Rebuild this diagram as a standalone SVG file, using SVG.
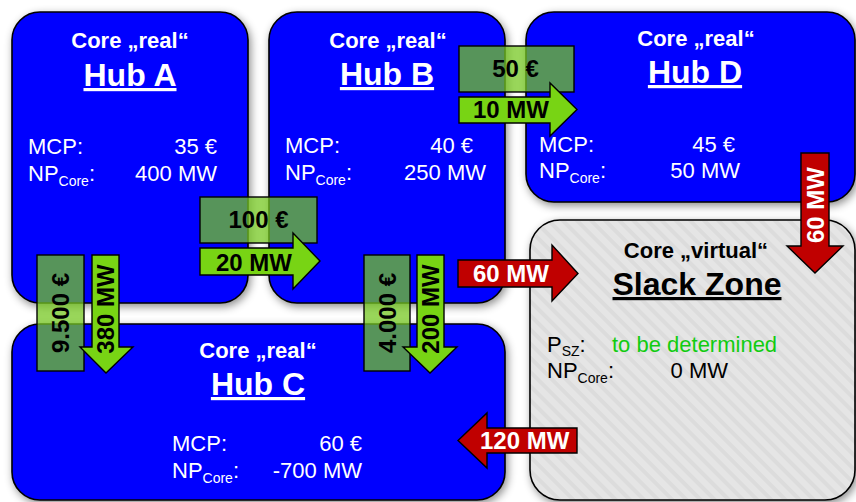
<svg xmlns="http://www.w3.org/2000/svg" width="856" height="502" viewBox="0 0 856 502">
<style>
text{font-family:"Liberation Sans",Arial,sans-serif}
.box{fill:#0000ff;stroke:#000;stroke-width:1.6;filter:url(#sh)}
.slack{fill:url(#stripes);stroke:#000;stroke-width:1.6;filter:url(#sh)}
.hdr{font-size:22px;font-weight:bold;fill:#fff;text-anchor:middle}
.hub{font-size:32px;font-weight:bold;fill:#fff;text-anchor:middle;text-decoration:underline}
.lbl{font-size:22px;fill:#fff}
.val{font-size:22px;fill:#fff;text-anchor:end}
.dk{fill:#000}
.sub{font-size:14px}
.price{fill:#76c820;fill-opacity:0.74;stroke:#000;stroke-width:1.4}
.ga{fill:#78d414;stroke:#000;stroke-width:1.4}
.ra{fill:#c00000;stroke:#000;stroke-width:1.4}
.al{font-size:24px;font-weight:bold;fill:#000}
.ar{font-size:24px;font-weight:bold;fill:#fff}
</style>
<defs>
<filter id="sh" x="-10%" y="-10%" width="120%" height="120%">
<feDropShadow dx="2" dy="3" stdDeviation="4" flood-color="#000" flood-opacity="0.45"/>
</filter>
<pattern id="stripes" patternUnits="userSpaceOnUse" width="10" height="10" patternTransform="rotate(-45)">
<rect width="10" height="10" fill="#e5e5e5"/>
<rect width="4" height="10" fill="#dcdcdc"/>
</pattern>
</defs>
<rect width="856" height="502" fill="#fff"/>

<g id="hubA">
<rect class="box" x="12" y="12" width="236" height="291" rx="28"/>
<text class="hdr" x="130" y="48">Core „real“</text>
<text class="hub" x="130" y="86">Hub A</text>
<text class="lbl" x="28" y="154">MCP:</text>
<text class="val" x="217" y="154">35 €</text>
<text class="lbl" x="28" y="181">NP<tspan class="sub" dy="5">Core</tspan><tspan dy="-5">:</tspan></text>
<text class="val" x="217" y="181">400 MW</text>
</g>

<g id="hubB">
<rect class="box" x="269" y="12" width="236" height="291" rx="28"/>
<text class="hdr" x="388" y="48">Core „real“</text>
<text class="hub" x="387" y="85">Hub B</text>
<text class="lbl" x="285" y="153">MCP:</text>
<text class="val" x="473" y="153">40 €</text>
<text class="lbl" x="285" y="180">NP<tspan class="sub" dy="5">Core</tspan><tspan dy="-5">:</tspan></text>
<text class="val" x="486" y="180">250 MW</text>
</g>

<g id="hubD">
<rect class="box" x="526" y="12" width="329" height="190" rx="28"/>
<text class="hdr" x="696" y="46">Core „real“</text>
<text class="hub" x="695" y="83">Hub D</text>
<text class="lbl" x="539" y="152">MCP:</text>
<text class="val" x="735" y="152">45 €</text>
<text class="lbl" x="539" y="178">NP<tspan class="sub" dy="5">Core</tspan><tspan dy="-5">:</tspan></text>
<text class="val" x="740" y="178">50 MW</text>
</g>

<g id="slack">
<rect class="slack" x="530" y="220" width="325" height="280" rx="30"/>
<text class="hdr dk" x="696" y="258">Core „virtual“</text>
<text class="hub dk" x="697" y="295">Slack Zone</text>
<text class="lbl dk" x="547" y="352">P<tspan class="sub" dy="4">SZ</tspan><tspan dy="-4">:</tspan></text>
<text class="lbl" x="612" y="352" style="fill:#11cc11">to be determined</text>
<text class="lbl dk" x="547" y="378">NP<tspan class="sub" dy="5">Core</tspan><tspan dy="-5">:</tspan></text>
<text class="val dk" x="728" y="378">0 MW</text>
</g>

<g id="hubC">
<rect class="box" x="12" y="324" width="493" height="176" rx="28"/>
<text class="hdr" x="258" y="358">Core „real“</text>
<text class="hub" x="258" y="395">Hub C</text>
<text class="lbl" x="172" y="451">MCP:</text>
<text class="val" x="362" y="451">60 €</text>
<text class="lbl" x="172" y="478">NP<tspan class="sub" dy="5">Core</tspan><tspan dy="-5">:</tspan></text>
<text class="val" x="362" y="478">-700 MW</text>
</g>

<g id="connectors">
<rect class="price" x="459" y="46" width="115" height="46"/>
<path class="ga" d="M459,97 H550 V83 L577,109.5 L550,136 V123 H459 Z"/>
<text class="al" x="515.5" y="77" text-anchor="middle">50 €</text>
<text class="al" x="473" y="118">10 MW</text>

<rect class="price" x="200" y="197" width="117" height="46"/>
<path class="ga" d="M200,248 H293 V233 L320,261 L293,289 V275 H200 Z"/>
<text class="al" x="258.5" y="228" text-anchor="middle">100 €</text>
<text class="al" x="216" y="271">20 MW</text>

<rect class="price" x="37" y="255" width="47" height="116"/>
<path class="ga" d="M92,255 V347 H80 L106,373 L133,347 H119 V255 Z"/>
<text class="al" transform="translate(60.5,313) rotate(-90)" x="0" y="8.5" text-anchor="middle">9.500 €</text>
<text class="al" transform="translate(105.5,309) rotate(-90)" x="0" y="8.5" text-anchor="middle">380 MW</text>

<rect class="price" x="364" y="255" width="46" height="116"/>
<path class="ga" d="M417,255 V347 H403 L430,373 L457,347 H444 V255 Z"/>
<text class="al" transform="translate(387,313) rotate(-90)" x="0" y="8.5" text-anchor="middle">4.000 €</text>
<text class="al" transform="translate(430.5,309) rotate(-90)" x="0" y="8.5" text-anchor="middle">200 MW</text>

<path class="ra" d="M458,260 H552 V245 L578,273.5 L552,301 V287 H458 Z"/>
<text class="ar" x="473" y="282">60 MW</text>

<path class="ra" d="M801,153 V246 H787 L815,273 L843,246 H829 V153 Z"/>
<text class="ar" transform="translate(815,205) rotate(-90)" x="0" y="8.5" text-anchor="middle">60 MW</text>

<path class="ra" d="M577,428 H487 V413 L458,440.5 L487,468 V453 H577 Z"/>
<text class="ar" x="480" y="449">120 MW</text>
</g>
</svg>
